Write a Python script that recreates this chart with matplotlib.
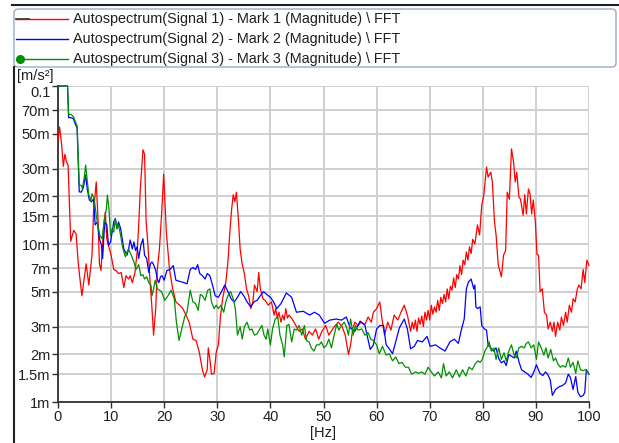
"""
Autospectrum of three signals (magnitude, FFT) on a log axis.
"""

import numpy as np
import matplotlib
matplotlib.use("Agg")
import matplotlib.pyplot as plt
from matplotlib.lines import Line2D
from matplotlib.patches import FancyBboxPatch
from matplotlib.ticker import NullLocator

plt.rcParams["font.family"] = ["Liberation Sans", "DejaVu Sans"]

# data: (frequency [Hz], magnitude [m m/s²])
signal1 = [
    (0, 45), (0.3, 55), (0.7, 42), (1.0, 31), (1.3, 37), (1.6, 33), (1.9, 31.6),
    (2.4, 10.4), (2.95, 12.2), (3.4, 11.6), (3.8, 7.7), (4.0, 6.6), (4.5, 4.7),
    (5.3, 7.5), (5.8, 5.5), (6.4, 8.5), (6.7, 15.9), (7.2, 24.7), (7.5, 15.3),
    (7.8, 7.5), (8.1, 6.8), (8.6, 13.2), (8.9, 15.9), (9.2, 10.7), (9.5, 9.8),
    (10.0, 8.5), (10.5, 6.9), (10.9, 6.8), (11.4, 6.5), (11.9, 6.6), (12.4, 5.3),
    (12.8, 6.3), (13.3, 6.0), (13.6, 6.3), (14.0, 5.7), (14.5, 6.6), (14.9, 8.9),
    (15.2, 13.2), (15.5, 22.3), (16.0, 39.5), (16.3, 37), (16.6, 13.8), (16.9, 10.3),
    (17.3, 6.0), (17.7, 3.9), (18.0, 2.65), (18.4, 3.9), (18.7, 6.9), (19.1, 9.3),
    (19.5, 15.2), (19.9, 27.7), (20.4, 11.9), (21.0, 6.9), (21.6, 5.2), (22.2, 4.3),
    (22.9, 4.1), (23.5, 3.9), (24.1, 3.55), (24.7, 3.2), (25.4, 2.5), (26.0, 2.45),
    (26.6, 2.07), (27.2, 1.6), (27.6, 1.44), (28.1, 1.6), (28.3, 2.2), (28.6, 1.87),
    (28.9, 1.5), (29.4, 1.52), (29.8, 2.07), (30.2, 2.3), (30.6, 3.5), (31.0, 4.5),
    (31.6, 5.7), (32.0, 7.7), (32.4, 12.4), (32.7, 16.6), (33.0, 20.5), (33.3, 18.5),
    (33.6, 21.3), (34.0, 13.8), (34.3, 9.3), (34.7, 7.4), (35.1, 6.5), (35.5, 5.2),
    (35.9, 4.7), (36.3, 3.9), (36.7, 4.3), (37.0, 5.5), (37.5, 5.0), (37.8, 6.6),
    (38.1, 5.2), (38.6, 4.5), (39.0, 4.4), (39.6, 4.1), (40.2, 4.3), (40.7, 3.55),
    (41.0, 3.9), (41.3, 3.4), (41.6, 3.7), (42.0, 3.2), (42.3, 3.55), (42.6, 3.3),
    (42.9, 3.9), (43.2, 3.4), (43.5, 3.55), (44.1, 3.35), (44.8, 3.05), (45.4, 2.8),
    (46.0, 2.9), (46.6, 2.5), (47.3, 2.8), (47.9, 2.65), (48.5, 2.9), (49.1, 2.5),
    (49.7, 2.8), (50.4, 3.05), (51.0, 2.65), (51.6, 2.85), (52.2, 3.05), (52.8, 3.2),
    (53.5, 3.0), (54.1, 2.65), (54.7, 2.0), (55.1, 2.3), (55.5, 2.9), (55.9, 3.2),
    (56.5, 3.05), (57.1, 3.2), (57.8, 3.1), (58.4, 3.45), (59.0, 3.2), (59.4, 3.7),
    (60.0, 3.9), (60.6, 4.3), (61.1, 3.2), (61.5, 2.65), (62.1, 3.2), (62.7, 2.85),
    (63.3, 3.55), (64.0, 3.3), (64.6, 3.7), (65.2, 4.1), (65.8, 3.55), (66.4, 2.8),
    (66.7, 3.2), (67.0, 2.9), (67.3, 3.3), (67.6, 2.8), (67.9, 3.4), (68.2, 3.1),
    (68.5, 3.5), (68.8, 3.0), (69.1, 3.7), (69.4, 3.3), (69.7, 3.8), (70.0, 3.3),
    (70.3, 4.1), (70.6, 3.6), (70.9, 4.0), (71.2, 3.7), (71.5, 4.4), (71.8, 3.8),
    (72.1, 4.6), (72.4, 4.2), (72.7, 4.8), (73.0, 4.3), (73.3, 5.2), (73.6, 4.5),
    (73.9, 5.4), (74.2, 5.1), (74.5, 6.1), (74.8, 5.3), (75.1, 6.4), (75.4, 6.0),
    (75.7, 7.3), (76.0, 6.4), (76.3, 7.9), (76.6, 7.4), (76.9, 8.9), (77.2, 7.9),
    (77.5, 9.6), (77.8, 8.7), (78.1, 10.7), (78.5, 10.0), (79.0, 13.2), (79.4, 11.4),
    (79.8, 17.6), (80.2, 20.5), (80.7, 30.7), (81.0, 26.5), (81.5, 28.5), (81.8, 24.7),
    (82.2, 13.8), (82.5, 11.4), (82.9, 7.4), (83.3, 6.6), (83.5, 6.2), (83.9, 8.5),
    (84.3, 9.1), (84.6, 21.3), (85.0, 19.2), (85.4, 40), (85.8, 33), (86.1, 24.7),
    (86.4, 28.5), (86.8, 19.8), (87.1, 19.2), (87.6, 15.2), (87.9, 20.5), (88.2, 15.5),
    (88.6, 22.3), (88.9, 20.7), (89.2, 15.5), (89.5, 19), (89.9, 13.8), (90.2, 8.6),
    (90.5, 8.5), (90.8, 5.0), (91.2, 5.2), (91.6, 3.7), (92.0, 3.55), (92.3, 2.9),
    (92.7, 3.2), (93.1, 2.8), (93.4, 3.2), (93.7, 2.6), (94.1, 3.2), (94.5, 2.85),
    (94.8, 3.45), (95.2, 3.05), (95.6, 3.7), (95.9, 3.2), (96.3, 4.1), (96.7, 3.7),
    (97.0, 4.5), (97.4, 4.3), (97.8, 5.2), (98.1, 5.5), (98.5, 5.2), (98.9, 6.9),
    (99.2, 5.7), (99.6, 7.9), (100, 7.3),
]

signal2 = [
    (0, 100), (1.8, 100), (2.0, 63), (2.5, 63), (2.9, 62), (3.3, 57), (3.6, 54),
    (4.0, 21.4), (4.4, 21.3), (4.8, 22.9), (5.2, 27.3), (5.5, 22.4), (5.9, 19),
    (6.3, 18.5), (6.7, 19.3), (7.0, 13.2), (7.4, 13.8), (7.8, 10.8), (8.2, 9.8),
    (8.4, 8.1), (8.8, 13.8), (9.2, 13.2), (9.5, 9.8), (9.9, 10.3), (10.2, 11.9),
    (10.5, 13.8), (10.8, 14.5), (11.1, 12.5), (11.4, 13.8), (11.8, 12.5), (12.1, 10.8),
    (12.4, 9.3), (12.7, 8.9), (13.0, 8.5), (13.3, 9.3), (13.6, 10.6), (14.0, 9.3),
    (14.3, 10.3), (14.6, 9.1), (14.9, 9.6), (15.2, 8.1), (15.6, 9.8), (16.0, 10.8),
    (16.3, 8.5), (16.7, 8.1), (17.1, 6.6), (17.4, 7.5), (17.7, 7.7), (18.0, 7.4),
    (18.4, 6.8), (18.7, 6.0), (19.0, 5.7), (19.3, 6.2), (19.6, 6.3), (20.0, 5.9),
    (20.5, 6.8), (21.1, 6.9), (21.7, 7.3), (22.2, 5.9), (22.9, 5.8), (23.7, 5.7),
    (24.3, 5.6), (24.9, 6.9), (25.4, 7.1), (25.9, 6.9), (26.3, 7.4), (26.7, 6.5),
    (27.2, 6.3), (27.7, 6.0), (28.1, 6.5), (28.6, 6.3), (29.1, 5.5), (29.6, 4.7),
    (30.2, 4.6), (30.8, 5.0), (31.4, 5.5), (32.0, 5.0), (32.6, 4.5), (33.2, 4.3),
    (33.8, 4.6), (34.4, 5.0), (35.0, 4.7), (35.6, 4.3), (36.3, 4.0), (36.9, 4.3),
    (37.5, 4.4), (38.1, 4.7), (38.7, 5.0), (39.3, 4.8), (40.0, 4.6), (40.6, 4.3),
    (41.2, 3.9), (42.0, 4.2), (43.0, 4.9), (44.0, 4.6), (44.9, 3.7), (46.2, 3.75),
    (47.4, 3.55), (48.3, 3.7), (49.2, 3.55), (50.2, 3.15), (51.2, 3.3), (52.4, 3.35),
    (53.4, 3.3), (54.3, 3.45), (55.0, 2.95), (55.9, 2.8), (56.9, 3.25), (57.8, 3.05),
    (58.8, 2.15), (59.4, 2.3), (60.0, 2.9), (60.6, 3.05), (61.3, 3.05), (61.8, 2.3),
    (62.4, 2.17), (63.0, 2.02), (63.6, 2.4), (64.3, 2.95), (65.2, 3.35), (65.8, 2.9),
    (66.4, 2.17), (67.1, 2.25), (67.7, 2.45), (68.6, 2.4), (69.5, 2.6), (70.1, 2.25),
    (71.1, 2.3), (71.9, 2.2), (72.9, 2.1), (73.8, 2.4), (74.6, 2.5), (75.4, 2.35),
    (76.0, 2.9), (76.5, 3.35), (76.9, 5.2), (77.3, 5.75), (77.8, 6.0), (78.3, 5.2),
    (78.5, 5.5), (78.7, 4.0), (79.0, 3.9), (79.5, 4.0), (79.8, 3.05), (80.3, 2.9),
    (80.7, 2.85), (81.0, 2.3), (81.5, 2.2), (82.0, 2.1), (82.5, 2.2), (83.0, 1.88),
    (83.5, 1.77), (84.0, 1.82), (84.4, 1.7), (84.9, 2.0), (85.4, 1.95), (85.9, 1.9),
    (86.3, 2.1), (86.8, 1.8), (87.3, 1.6), (87.9, 1.55), (88.5, 1.5), (89.1, 1.43),
    (89.6, 1.55), (90.1, 1.72), (90.7, 1.53), (91.3, 1.47), (91.8, 1.55), (92.2, 1.5),
    (92.7, 1.38), (93.1, 1.1), (93.7, 1.2), (94.4, 1.25), (95.0, 1.27), (95.6, 1.32),
    (96.1, 1.5), (96.5, 1.43), (97.0, 1.2), (97.5, 1.45), (97.9, 1.15), (98.4, 1.08),
    (98.9, 1.1), (99.2, 1.15), (99.5, 1.6), (100, 1.5),
]

signal3 = [
    (0, 100), (1.8, 100), (2.0, 66), (2.5, 66), (2.9, 64), (3.3, 59), (3.6, 56),
    (4.0, 23.6), (4.4, 23.5), (4.6, 22.4), (5.0, 27.2), (5.2, 31.6), (5.6, 23.7),
    (5.8, 20.4), (6.2, 18.9), (6.4, 20.8), (6.8, 19.5), (7.2, 15.2), (7.5, 13.2),
    (7.9, 11.3), (8.3, 10.8), (8.7, 13.8), (9.1, 16.7), (9.3, 20.4), (9.6, 16.7),
    (9.9, 11.3), (10.2, 12.5), (10.5, 11.9), (10.8, 14.5), (11.1, 12.5), (11.4, 13.2),
    (11.8, 11.3), (12.1, 9.8), (12.4, 8.9), (12.7, 8.3), (13.0, 8.9), (13.3, 9.3),
    (13.8, 8.5), (14.3, 7.7), (14.7, 6.9), (15.2, 7.4), (15.6, 6.3), (16.0, 6.4),
    (16.3, 6.0), (16.7, 6.2), (17.1, 5.7), (17.5, 5.5), (17.7, 4.7), (18.0, 5.2),
    (18.3, 5.9), (18.7, 5.2), (19.1, 5.1), (19.5, 5.0), (20.1, 4.4), (20.7, 4.7),
    (21.3, 5.1), (21.9, 4.5), (22.3, 3.2), (22.8, 2.45), (23.3, 2.9), (23.9, 3.5),
    (24.3, 3.7), (24.9, 5.1), (25.4, 4.3), (25.9, 4.2), (26.4, 3.8), (26.8, 4.8),
    (27.2, 4.7), (27.7, 4.4), (28.2, 5.1), (28.6, 5.2), (28.9, 4.3), (29.4, 3.9),
    (29.8, 4.1), (30.2, 3.9), (30.7, 4.1), (31.2, 3.7), (31.6, 4.3), (32.0, 4.7),
    (32.5, 5.0), (33.0, 4.5), (33.4, 3.9), (33.8, 2.65), (34.3, 3.0), (34.7, 2.5),
    (35.1, 3.0), (35.6, 3.2), (36.1, 2.85), (36.5, 2.9), (37.0, 2.65), (37.5, 2.7),
    (38.0, 2.9), (38.4, 3.05), (38.8, 2.65), (39.2, 2.5), (39.5, 2.9), (40.0, 2.3),
    (40.4, 2.9), (40.9, 3.35), (41.4, 3.45), (41.8, 2.65), (42.3, 2.3), (42.6, 1.93),
    (43.1, 3.05), (43.5, 3.1), (44.0, 2.4), (44.5, 2.9), (44.9, 2.85), (45.4, 3.05),
    (45.9, 2.65), (46.4, 3.05), (46.8, 2.45), (47.3, 2.4), (47.7, 2.2), (48.2, 2.1),
    (48.7, 2.3), (49.2, 2.3), (49.6, 2.4), (50.1, 2.2), (50.6, 2.3), (51.0, 2.5),
    (51.5, 2.2), (52.0, 2.65), (52.5, 3.1), (52.9, 2.85), (53.4, 3.05), (53.9, 3.2),
    (54.3, 3.0), (54.7, 2.65), (55.1, 3.35), (55.6, 2.65), (56.0, 3.05), (56.5, 2.85),
    (57.2, 2.9), (57.8, 2.65), (58.4, 2.75), (58.9, 2.5), (59.4, 2.45), (60.0, 2.3),
    (60.5, 2.02), (61.1, 2.25), (61.8, 1.98), (62.4, 2.02), (63.0, 1.82), (63.6, 1.93),
    (64.2, 1.75), (64.8, 1.78), (65.4, 1.66), (66.0, 1.66), (66.6, 1.5), (67.3, 1.55),
    (67.9, 1.52), (68.5, 1.55), (69.1, 1.5), (69.7, 1.66), (70.3, 1.55), (70.9, 1.46),
    (71.6, 1.55), (72.2, 1.42), (72.6, 1.75), (73.1, 1.46), (73.7, 1.55), (74.3, 1.42),
    (75.0, 1.6), (75.6, 1.44), (76.2, 1.6), (76.8, 1.46), (77.4, 1.66), (78.0, 1.6),
    (78.6, 1.75), (79.1, 1.82), (79.5, 1.78), (79.9, 1.86), (80.4, 2.1), (80.9, 2.25),
    (81.2, 2.4), (81.6, 2.1), (82.1, 2.2), (82.5, 1.86), (83.0, 2.2), (83.5, 1.86),
    (84.0, 2.05), (84.4, 1.82), (84.9, 2.1), (85.4, 2.3), (85.9, 1.98), (86.3, 1.9),
    (86.8, 2.2), (87.3, 2.25), (87.8, 2.2), (88.2, 2.35), (88.6, 2.4), (89.1, 2.2),
    (89.6, 2.3), (90.1, 1.86), (90.5, 2.4), (91.0, 2.2), (91.5, 1.98), (91.9, 2.2),
    (92.3, 1.9), (92.8, 2.15), (93.3, 1.82), (93.7, 1.9), (94.1, 1.75), (94.6, 1.66),
    (95.1, 1.7), (95.6, 1.66), (96.1, 1.9), (96.5, 1.66), (97.0, 1.78), (97.5, 1.52),
    (97.9, 1.82), (98.4, 1.6), (98.9, 1.58), (99.3, 1.6), (99.7, 1.55), (100, 1.5),
]

series_labels = [
    "Autospectrum(Signal 1) - Mark 1 (Magnitude) \\ FFT",
    "Autospectrum(Signal 2) - Mark 2 (Magnitude) \\ FFT",
    "Autospectrum(Signal 3) - Mark 3 (Magnitude) \\ FFT",
]
series_colors = ["#ff0000", "#0000ff", "#009000"]

ytick_values = [1, 1.5, 2, 3, 5, 7, 10, 15, 20, 30, 50, 70, 100]   # milli m/s²
ytick_labels = ["1m", "1.5m", "2m", "3m", "5m", "7m", "10m", "15m",
                "20m", "30m", "50m", "70m", "0.1"]
xtick_values = list(range(0, 101, 10))

W, H = 619, 443


def fx(px):
    return px / W


def fy(px):
    return 1 - px / H


fig = plt.figure(figsize=(W / 100, H / 100), dpi=100)
ax = fig.add_axes([fx(58), fy(402), fx(589) - fx(58), fy(86) - fy(402)])

for pts, color in zip([signal1, signal2, signal3], series_colors):
    f, v = np.array(pts, dtype=float).T
    ax.plot(f, v * 1e-3, color=color, lw=0.9, clip_on=False, zorder=3)

ax.set_yscale("log")
ax.set_ylim(1e-3, 0.1)
ax.set_xlim(0, 100)
ax.set_yticks(np.array(ytick_values) * 1e-3)
ax.set_yticklabels(ytick_labels)
ax.yaxis.set_minor_locator(NullLocator())
ax.set_xticks(xtick_values)
ax.grid(True, color="#cfcfcf", lw=1.4)
ax.set_axisbelow(True)

for side in ["top", "right"]:
    ax.spines[side].set_visible(False)
for side in ["left", "bottom"]:
    ax.spines[side].set_color("#303030")
    ax.spines[side].set_linewidth(1.3)
ax.tick_params(direction="out", length=4, width=1, color="#303030",
               labelsize=10.5, pad=1.5, labelcolor="#202020")
ax.get_yticklabels()[-1].set_va("top")

fig.text(fx(35), fy(76), "[m/s²]", ha="center", va="center", fontsize=10.5, color="#202020")
fig.text(fx(323), fy(433), "[Hz]", ha="center", va="center", fontsize=10.5, color="#202020")

# panel frame + legend box
fig.add_artist(Line2D([fx(12), 1], [fy(5), fy(5)], color="#202020", lw=1.5))
fig.add_artist(Line2D([fx(14), fx(14)], [0, fy(67)], color="#202020", lw=1.5))
fig.add_artist(FancyBboxPatch((fx(14), fy(67)), fx(616) - fx(14), fy(9) - fy(67),
                              boxstyle="round,pad=0,rounding_size=0.008",
                              transform=fig.transFigure, fc="white",
                              ec="#9aaac4", lw=1.0))

for i, (label, color) in enumerate(zip(series_labels, series_colors)):
    y = fy(19 + 20 * i)
    fig.add_artist(Line2D([fx(16), fx(68)], [y, y], color=color, lw=1.0))
    fig.text(fx(73), y, label, ha="left", va="center", fontsize=10.35, color="#202020")
fig.add_artist(Line2D([fx(16), fx(29)], [fy(19), fy(19)], color="#404040", lw=1.3))
fig.add_artist(Line2D([fx(20)], [fy(59)], color=series_colors[2], marker="o",
                      markersize=5.5, lw=0))

fig.savefig("out.png", dpi=100)
